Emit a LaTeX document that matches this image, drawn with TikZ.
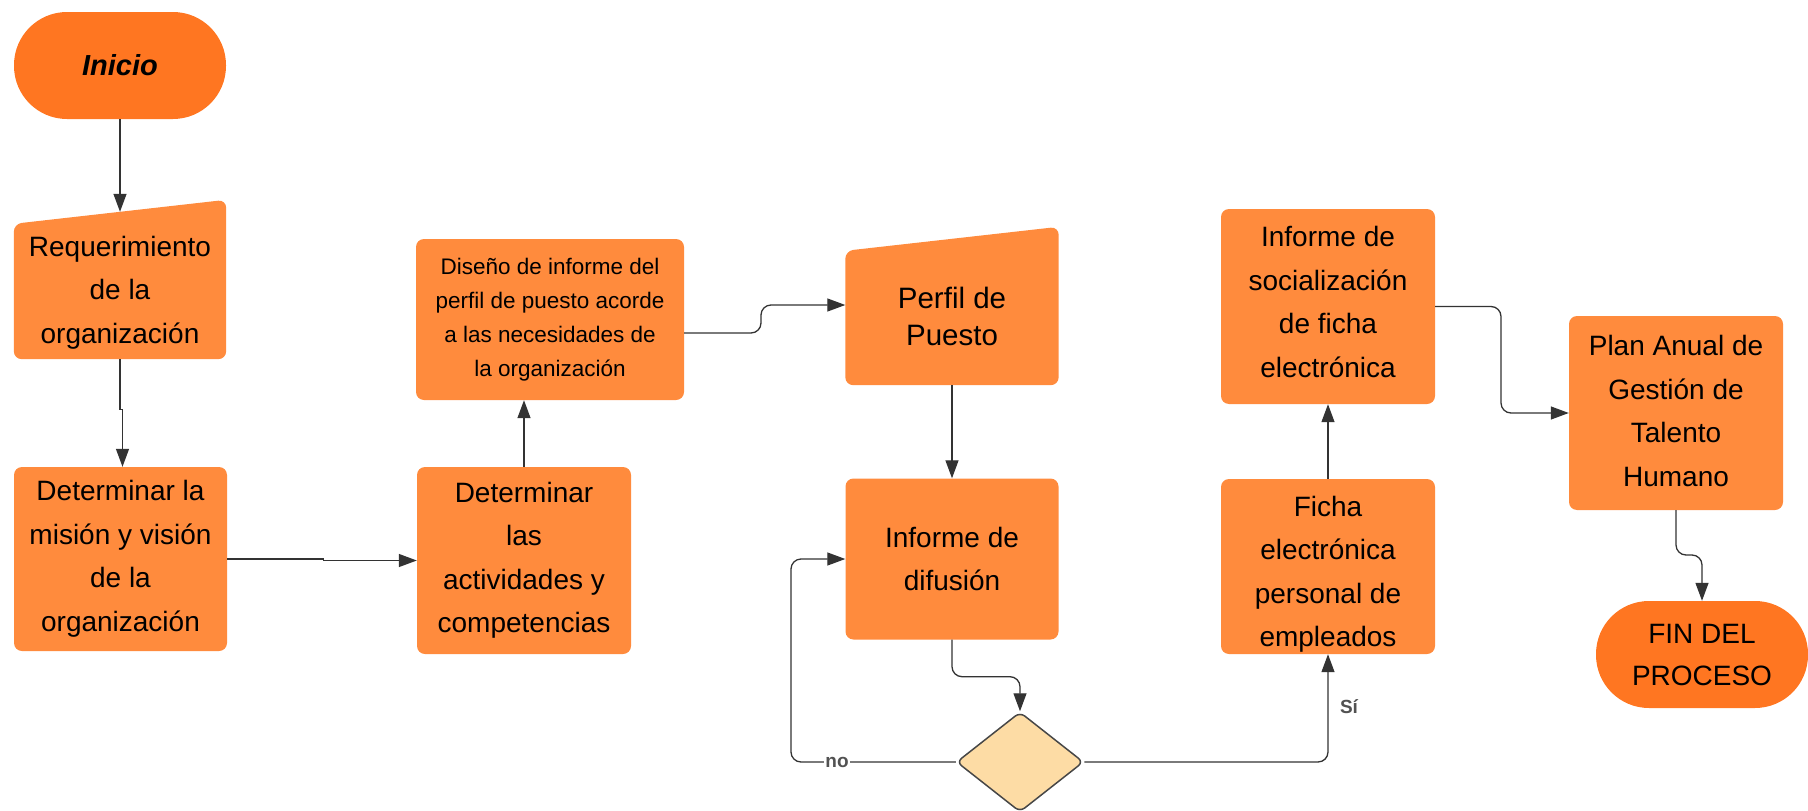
\documentclass[tikz,border=0pt]{standalone}
\usepackage{fontspec}
\setmainfont{Liberation Sans}
\usetikzlibrary{arrows.meta,shapes.geometric,backgrounds}
\definecolor{boxor}{HTML}{FF8B3D}
\definecolor{termor}{HTML}{FF7621}
\definecolor{decfill}{HTML}{FDDCA5}
\definecolor{linec}{HTML}{333333}
\begin{document}
\begin{tikzpicture}[x=1pt,y=-1pt,
  box/.style={rectangle, rounded corners=8pt, fill=boxor, align=center, inner sep=0pt, font=\fontsize{28}{43.5}\selectfont},
  manual/.style={rectangle, align=center, inner sep=0pt, font=\fontsize{28}{43.5}\selectfont},
  term/.style={rectangle, rounded corners=53pt, fill=termor, align=center, inner sep=0pt, minimum width=212pt, minimum height=107pt},
  arr/.style={draw=linec, line width=1.3pt, rounded corners=10pt, -{Triangle[length=18pt,width=13pt]}},
  lbl/.style={font=\bfseries\fontsize{19}{22}\selectfont, text=linec!85, inner sep=1pt}
]
\useasboundingbox (0,0) rectangle (1808,811);

% terminals
\node[term, font=\bfseries\itshape\fontsize{29}{35}\selectfont] (ini) at (120,65.5) {Inicio};
\node[term, font=\fontsize{28}{42}\selectfont] (fin) at (1702,654.5) {FIN DEL\\PROCESO};

% manual input shapes (text nodes; outline filled on background)
\node[manual, minimum width=212pt, minimum height=133pt] (req) at (120,292.5) {Requerimiento\\de la\\organización};
\node[manual, minimum width=213pt, minimum height=138pt, font=\fontsize{29.5}{37}\selectfont] (per) at (952,316) {Perfil de\\Puesto};
\begin{pgfonlayer}{background}
\fill[boxor, rounded corners=8pt] (req.south west) -- (req.south east) -- ([yshift=26pt]req.north east) -- ([yshift=2pt]req.north west) -- cycle;
\fill[boxor, rounded corners=8pt] (per.south west) -- (per.south east) -- ([yshift=20pt]per.north east) -- ([yshift=-4pt]per.north west) -- cycle;
\end{pgfonlayer}

% process boxes
\node[box, minimum width=213pt, minimum height=184pt] (mis) at (120.5,559) {Determinar la\\misión y visión\\de la\\organización};
\node[box, minimum width=214pt, minimum height=187pt] (act) at (524,560.5) {Determinar\\las\\actividades y\\competencias};
\node[box, minimum width=268pt, minimum height=161pt, font=\fontsize{22.5}{34}\selectfont] (dis) at (550,319.5) {Diseño de informe del\\perfil de puesto acorde\\a las necesidades de\\la organización};
\node[box, minimum width=213pt, minimum height=161pt] (dif) at (952,559) {Informe de\\difusión};
\node[box, minimum width=214pt, minimum height=175pt] (fic) at (1328,566.5) {\rule{0pt}{36pt}Ficha\\electrónica\\personal de\\empleados};
\node[box, minimum width=214pt, minimum height=195pt] (soc) at (1328,306.5) {Informe de\\socialización\\de ficha\\electrónica\rule[-9pt]{0pt}{9pt}};
\node[box, minimum width=214pt, minimum height=194pt] (plan) at (1676,413) {Plan Anual de\\Gestión de\\Talento\\Humano\rule[-4pt]{0pt}{4pt}};

% decision
\node[diamond, shape aspect=1.27, minimum width=127pt, minimum height=100pt, inner sep=0pt, fill=decfill, draw=linec!90, line width=1.5pt, rounded corners=6pt] (dec) at (1020,762) {};

% connectors
\draw[arr] (ini.south) -- ([yshift=14pt]req.north);
\draw[arr, sharp corners] (req.south) -- ++(0,50) -- ++(2.5,0) -- (mis.north -| 122.5,0);
\draw[arr, sharp corners] (mis.east) -- ++(96,0) |- (act.west);
\draw[arr] (act.north) -- (act.north |- dis.south);
\draw[arr] (dis.east |- 0,333) -- (761,333) |- (per.west |- 0,305);
\draw[arr] (per.south) -- (dif.north);
\draw[arr] (dif.south) -- ++(0,37) -| (dec.north);
\draw[arr] (dec.west) -- (791,762) |- (dif.west);
\draw[arr] (dec.east) -| (fic.south);
\draw[arr] (fic.north) -- (soc.south);
\draw[arr] (soc.east) -- (1501,306.5) |- (plan.west);
\draw[arr] (plan.south) -- (1676,555) -| (fin.north);

% labels
\node[lbl, fill=white] (no) at (837,762) {no};
\node[lbl] (si) at (1349,707) {Sí};
\end{tikzpicture}
\end{document}
